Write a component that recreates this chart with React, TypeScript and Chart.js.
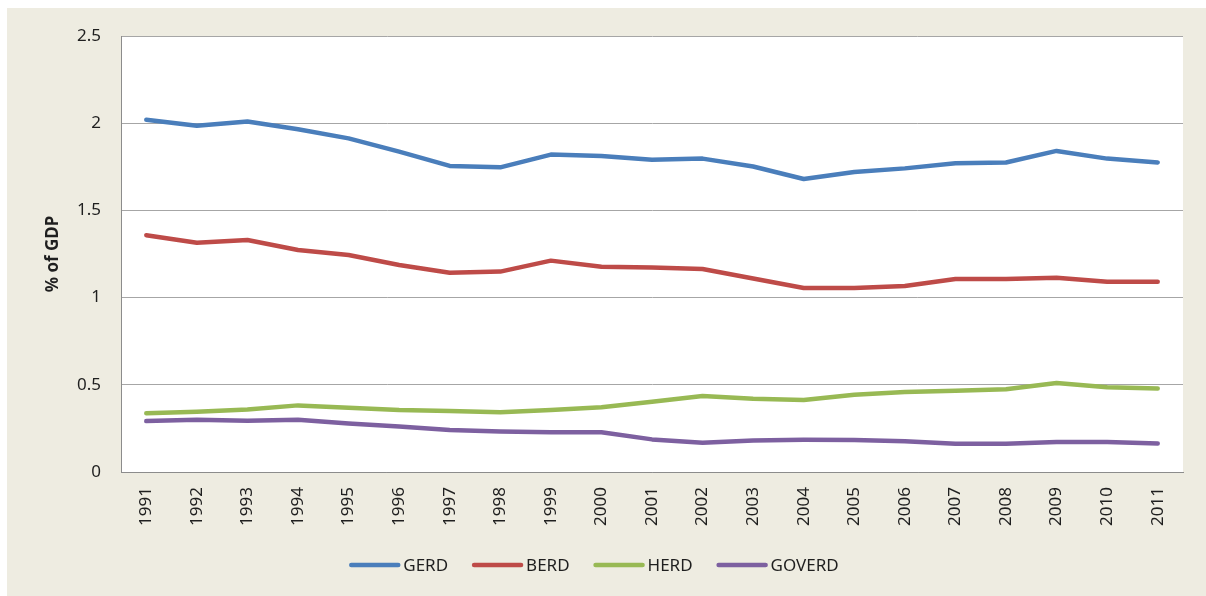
import React, { useEffect, useRef } from "react";
import { Chart, registerables } from "chart.js";

Chart.register(...registerables);

const years = ["1991","1992","1993","1994","1995","1996","1997","1998","1999","2000","2001","2002","2003","2004","2005","2006","2007","2008","2009","2010","2011"];
const gerd = [2.02, 1.986, 2.01, 1.965, 1.913, 1.837, 1.755, 1.747, 1.82, 1.812, 1.79, 1.797, 1.752, 1.68, 1.72, 1.741, 1.77, 1.775, 1.841, 1.797, 1.775];
const berd = [1.358, 1.315, 1.33, 1.273, 1.244, 1.187, 1.143, 1.149, 1.212, 1.177, 1.172, 1.164, 1.11, 1.055, 1.055, 1.067, 1.107, 1.107, 1.114, 1.091, 1.091];
const herd = [0.337, 0.345, 0.359, 0.382, 0.369, 0.355, 0.35, 0.342, 0.355, 0.371, 0.403, 0.436, 0.42, 0.413, 0.443, 0.459, 0.466, 0.474, 0.51, 0.486, 0.479];
const goverd = [0.292, 0.3, 0.294, 0.3, 0.278, 0.261, 0.241, 0.232, 0.228, 0.228, 0.187, 0.168, 0.181, 0.185, 0.183, 0.176, 0.162, 0.162, 0.172, 0.172, 0.164];
const yTicks = [0, 0.5, 1, 1.5, 2, 2.5];
const seriesNames = ["GERD", "BERD", "HERD", "GOVERD"];
const seriesColors = ["#4A7EBB", "#BE4B48", "#98B954", "#7D60A0"];

const FONT = "'Noto Sans', 'Open Sans', sans-serif";
const TEXT = "#1f1f1f";

const bgPlugin = {
  id: "bgPlugin",
  beforeDraw(chart: any) {
    const { ctx, width, height, chartArea } = chart;
    ctx.save();
    ctx.fillStyle = "#ffffff";
    ctx.fillRect(0, 0, width, height);
    ctx.fillStyle = "#EEECE1";
    ctx.fillRect(7, 8, width - 7, height - 8);
    ctx.fillStyle = "#ffffff";
    ctx.fillRect(chartArea.left, chartArea.top, chartArea.right - chartArea.left, chartArea.bottom - chartArea.top);
    ctx.restore();
  },
};

const legendPlugin = {
  id: "customLegend",
  afterDraw(chart: any) {
    const { ctx } = chart;
    const ds = chart.data.datasets;
    ctx.save();
    ctx.font = `17px ${FONT}`;
    const lineLen = 51;
    const gapText = 3;
    const gapItem = 24;
    const widths = ds.map((d: any) => lineLen + gapText + ctx.measureText(d.label).width);
    const total = widths.reduce((a: number, b: number) => a + b, 0) + gapItem * (ds.length - 1);
    let x = 594 - total / 2;
    const y = 565;
    ds.forEach((d: any, i: number) => {
      ctx.strokeStyle = d.borderColor;
      ctx.lineWidth = 4.5;
      ctx.lineCap = "round";
      ctx.beginPath();
      ctx.moveTo(x + 2, y);
      ctx.lineTo(x + lineLen - 2, y);
      ctx.stroke();
      ctx.fillStyle = TEXT;
      ctx.textBaseline = "middle";
      ctx.textAlign = "left";
      ctx.fillText(d.label, x + lineLen + gapText, y + 1);
      x += widths[i] + gapItem;
    });
    ctx.restore();
  },
};

export default function App() {
  const ref = useRef<HTMLCanvasElement | null>(null);
  useEffect(() => {
    if (!ref.current) return;
    const seriesData = [gerd, berd, herd, goverd];
    const chart = new Chart(ref.current, {
      type: "line",
      data: {
        labels: years,
        datasets: seriesNames.map((n, i) => ({
          label: n,
          data: seriesData[i],
          borderColor: seriesColors[i],
          backgroundColor: seriesColors[i],
          borderWidth: 4.5,
          pointRadius: 0,
          tension: 0,
          fill: false,
          borderCapStyle: "round",
          borderJoinStyle: "round",
        })),
      },
      options: {
        responsive: false,
        animation: false,
        devicePixelRatio: 1,
        layout: { padding: { top: 36, right: 23, left: 0, bottom: 0 } },
        plugins: {
          legend: { display: false },
          tooltip: { enabled: false },
        },
        scales: {
          x: {
            type: "category",
            offset: true,
            grid: { display: false, drawTicks: false },
            border: { display: true, color: "#8C8C8C", width: 1 },
            ticks: {
              autoSkip: false,
              minRotation: 90,
              maxRotation: 90,
              padding: 15,
              color: TEXT,
              font: { family: FONT, size: 17 },
            },
            afterFit(scale: any) {
              scale.height = 124;
            },
          },
          y: {
            min: 0,
            max: 2.5,
            afterBuildTicks(scale: any) {
              scale.ticks = yTicks.map((v) => ({ value: v }));
            },
            grid: { color: "#A6A6A6", lineWidth: 1, drawTicks: false },
            border: { display: true, color: "#8C8C8C", width: 1 },
            ticks: {
              padding: 20,
              color: TEXT,
              font: { family: FONT, size: 17 },
              callback: (v: any) => String(v),
            },
            title: {
              display: true,
              text: "% of GDP",
              color: TEXT,
              font: { family: FONT, size: 17, weight: "bold" },
              padding: { top: 43, bottom: 0 },
            },
            afterFit(scale: any) {
              scale.width = 121;
            },
          },
        },
      },
      plugins: [bgPlugin, legendPlugin],
    } as any);
    return () => chart.destroy();
  }, []);
  return (
    <div style={{ position: "absolute", left: 0, top: 0, width: 1206, height: 596 }}>
      <canvas ref={ref} width={1206} height={596} style={{ display: "block", width: 1206, height: 596 }} />
    </div>
  );
}
